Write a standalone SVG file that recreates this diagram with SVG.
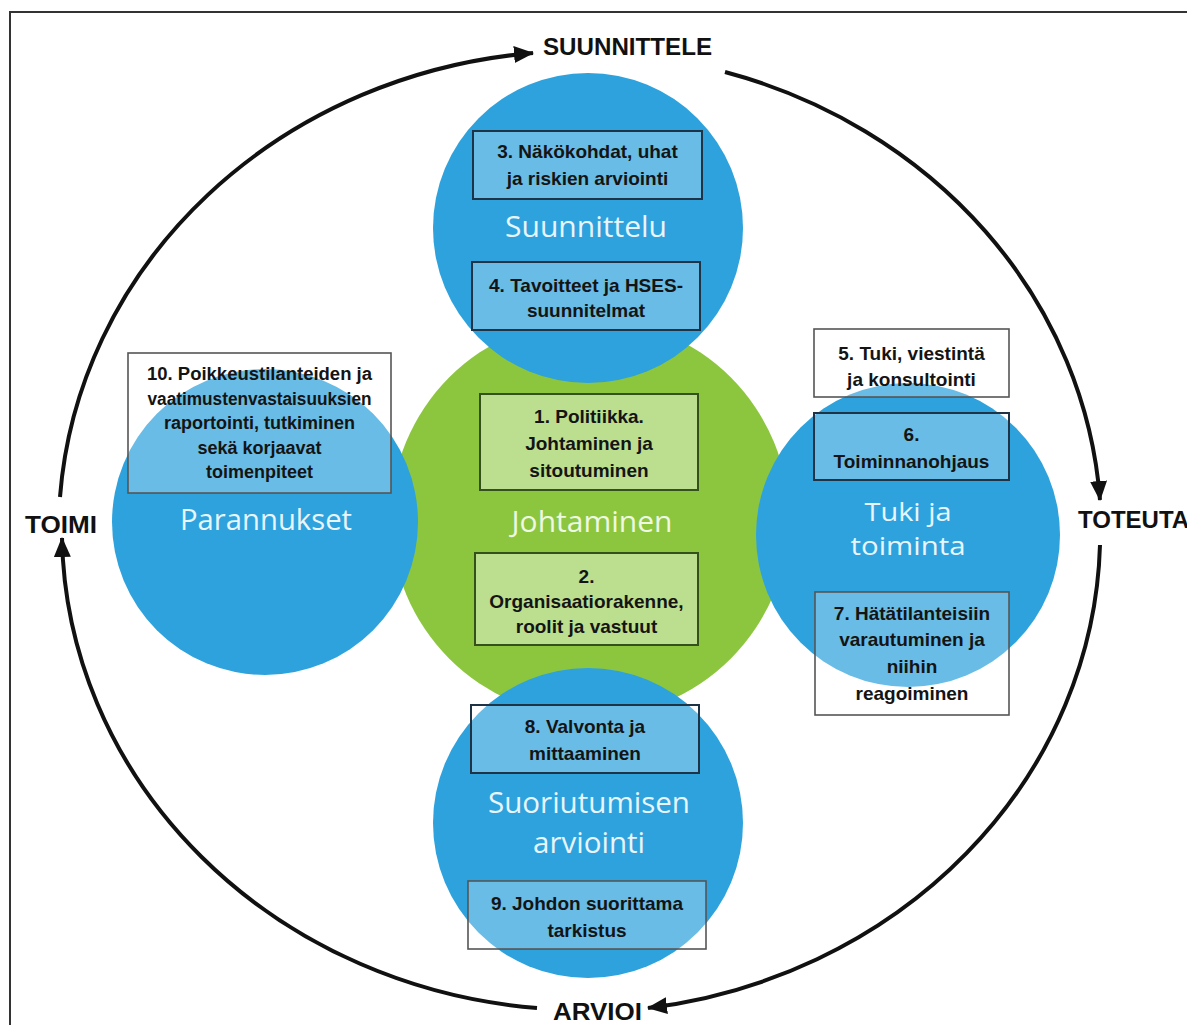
<svg xmlns="http://www.w3.org/2000/svg" width="1187" height="1025" viewBox="0 0 1187 1025">
<defs>
<style>
.frame{fill:none;stroke:#333;stroke-width:2}
.blue{fill:#2ea2dc}
.green{fill:#8cc63f}
.bbox{fill:#fff;fill-opacity:0.28;stroke:#1e3346;stroke-width:2}
.wbox{fill:#fff;fill-opacity:0.28;stroke:#555;stroke-width:1.6}
.gbox{fill:#fff;fill-opacity:0.42;stroke:#34501c;stroke-width:2}
.t{font-family:"Liberation Sans",Arial,sans-serif;font-weight:bold;font-size:19px;fill:#141414;text-anchor:middle}
.t10{font-family:"Liberation Sans",Arial,sans-serif;font-weight:bold;font-size:18px;fill:#141414;text-anchor:middle}
.big{font-family:"Open Sans","Liberation Sans",sans-serif;font-size:29px;fill:#e9f5fc;text-anchor:middle}
.bigs{font-family:"Open Sans","Liberation Sans",sans-serif;font-size:26px;fill:#e9f5fc;text-anchor:middle}
.bigg{font-family:"Open Sans","Liberation Sans",sans-serif;font-size:29px;fill:#eef8e2;text-anchor:middle}
.phase{font-family:"Liberation Sans",Arial,sans-serif;font-weight:bold;font-size:24px;fill:#111}
.arc{fill:none;stroke:#111;stroke-width:4;marker-end:url(#ah)}
</style>
<marker id="ah" markerUnits="userSpaceOnUse" markerWidth="20" markerHeight="17" viewBox="0 0 20 17" refX="19" refY="8.5" orient="auto"><path d="M0,0 L20,8.5 L0,17 z" fill="#111"/></marker>
</defs>
<rect x="0" y="0" width="1187" height="1025" fill="#fff"/>
<rect class="frame" x="10" y="12" width="1200" height="1040"/>

<g id="connectors">
<path class="arc" d="M60,497 A521,480 0 0 1 533,53"/>
<path class="arc" d="M725,72 A521,480 0 0 1 1100,500"/>
<path class="arc" d="M1100,545 A521,480 0 0 1 648,1008"/>
<path class="arc" d="M537,1008 A521,480 0 0 1 62,538"/>
</g>

<g id="phase-labels">
<text class="phase" x="543" y="55" textLength="169" lengthAdjust="spacingAndGlyphs">SUUNNITTELE</text>
<text class="phase" x="1078" y="528">TOTEUTA</text>
<text class="phase" x="553" y="1020" textLength="89" lengthAdjust="spacingAndGlyphs" font-size="25">ARVIOI</text>
<text class="phase" x="25" y="533" textLength="72" lengthAdjust="spacingAndGlyphs">TOIMI</text>
</g>

<g id="johtaminen">
<circle class="green" cx="590" cy="518" r="199"/>
</g>
<g id="suunnittelu">
<circle class="blue" cx="588" cy="228" r="155"/>
</g>
<g id="parannukset">
<circle class="blue" cx="265" cy="522" r="153"/>
</g>
<g id="tuki-ja-toiminta">
<circle class="blue" cx="908" cy="535" r="152"/>
</g>
<g id="suoriutumisen-arviointi">
<circle class="blue" cx="588" cy="823" r="155"/>
</g>

<g id="labels">
<text class="big" x="586" y="237" textLength="162" lengthAdjust="spacingAndGlyphs">Suunnittelu</text>
<text class="bigg" x="592" y="532" textLength="161" lengthAdjust="spacingAndGlyphs">Johtaminen</text>
<text class="big" x="266" y="530" textLength="172" lengthAdjust="spacingAndGlyphs">Parannukset</text>
<text class="bigs" x="908" y="521" textLength="87" lengthAdjust="spacingAndGlyphs">Tuki ja</text>
<text class="bigs" x="908" y="555" textLength="115" lengthAdjust="spacingAndGlyphs">toiminta</text>
<text class="big" x="589" y="813" textLength="202" lengthAdjust="spacingAndGlyphs">Suoriutumisen</text>
<text class="big" x="589" y="853" textLength="112" lengthAdjust="spacingAndGlyphs">arviointi</text>
</g>

<g id="box3">
<rect class="bbox" x="473" y="131" width="229" height="68"/>
<text class="t" x="587.5" y="158">3. Näkökohdat, uhat</text>
<text class="t" x="587.5" y="185">ja riskien arviointi</text>
</g>
<g id="box4">
<rect class="bbox" x="472" y="262" width="228" height="68"/>
<text class="t" x="586" y="292">4. Tavoitteet ja HSES-</text>
<text class="t" x="586" y="317">suunnitelmat</text>
</g>
<g id="box1">
<rect class="gbox" x="480" y="394" width="218" height="96"/>
<text class="t" x="589" y="423">1. Politiikka.</text>
<text class="t" x="589" y="450">Johtaminen ja</text>
<text class="t" x="589" y="477">sitoutuminen</text>
</g>
<g id="box2">
<rect class="gbox" x="475" y="553" width="223" height="92"/>
<text class="t" x="586.5" y="583">2.</text>
<text class="t" x="586.5" y="608">Organisaatiorakenne,</text>
<text class="t" x="586.5" y="633">roolit ja vastuut</text>
</g>
<g id="box10">
<rect class="wbox" x="128" y="353" width="263" height="140"/>
<text class="t10" x="259.5" y="380" textLength="225" lengthAdjust="spacingAndGlyphs">10. Poikkeustilanteiden ja</text>
<text class="t10" x="259.5" y="404.5" textLength="224" lengthAdjust="spacingAndGlyphs">vaatimustenvastaisuuksien</text>
<text class="t10" x="259.5" y="429">raportointi, tutkiminen</text>
<text class="t10" x="259.5" y="453.5">sekä korjaavat</text>
<text class="t10" x="259.5" y="478">toimenpiteet</text>
</g>
<g id="box5">
<rect class="wbox" x="814" y="329" width="195" height="68"/>
<text class="t" x="911.5" y="360">5. Tuki, viestintä</text>
<text class="t" x="911.5" y="386">ja konsultointi</text>
</g>
<g id="box6">
<rect class="bbox" x="814" y="413" width="195" height="67"/>
<text class="t" x="911.5" y="441">6.</text>
<text class="t" x="911.5" y="468">Toiminnanohjaus</text>
</g>
<g id="box7">
<rect class="wbox" x="815" y="592" width="194" height="123"/>
<text class="t" x="912" y="620">7. Hätätilanteisiin</text>
<text class="t" x="912" y="646">varautuminen ja</text>
<text class="t" x="912" y="673">niihin</text>
<text class="t" x="912" y="700">reagoiminen</text>
</g>
<g id="box8">
<rect class="bbox" x="471" y="705" width="228" height="68"/>
<text class="t" x="585" y="733">8. Valvonta ja</text>
<text class="t" x="585" y="760">mittaaminen</text>
</g>
<g id="box9">
<rect class="wbox" x="468" y="881" width="238" height="68"/>
<text class="t" x="587" y="910">9. Johdon suorittama</text>
<text class="t" x="587" y="937">tarkistus</text>
</g>
</svg>
